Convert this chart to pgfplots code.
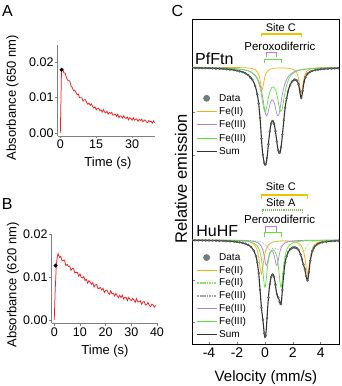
\documentclass[border=0pt]{standalone}
\usepackage{fontspec}
\setmainfont{Liberation Sans}
\usepackage{pgfplots}
\usepackage{pgfplotstable}
\pgfplotsset{compat=1.18}

\definecolor{tracered}{RGB}{255,25,25}
\definecolor{feii}{RGB}{255,170,20}
\definecolor{feiiA}{RGB}{140,228,110}
\definecolor{feiiigray}{RGB}{165,165,165}
\definecolor{feiiipurple}{RGB}{175,130,230}
\definecolor{feiiigreen}{RGB}{90,232,55}
\definecolor{sitec}{RGB}{240,195,0}
\definecolor{datagray}{RGB}{110,125,125}

% stopped-flow traces
\pgfplotstableread{
t a
0 0.0000
0.5 0.0178
1.0 0.0181
1.5 0.0169
2.0 0.0169
2.5 0.0157
3.0 0.0149
3.5 0.0148
4.0 0.0145
4.5 0.0132
5.0 0.0128
5.5 0.0119
6.0 0.0121
6.5 0.0115
7.0 0.0108
7.5 0.0110
8.0 0.0100
8.5 0.0099
9.0 0.0099
9.5 0.0090
10.0 0.0094
10.5 0.0094
11.0 0.0086
11.5 0.0081
12.0 0.0084
12.5 0.0078
13.0 0.0082
13.5 0.0075
14.0 0.0070
14.5 0.0074
15.0 0.0065
15.5 0.0069
16.0 0.0070
16.5 0.0063
17.0 0.0065
17.5 0.0059
18.0 0.0066
18.5 0.0059
19.0 0.0057
19.5 0.0061
20.0 0.0053
20.5 0.0058
21.0 0.0055
21.5 0.0058
22.0 0.0050
22.5 0.0051
23.0 0.0053
23.5 0.0047
24.0 0.0053
24.5 0.0043
25.0 0.0048
25.5 0.0048
26.0 0.0042
26.5 0.0048
27.0 0.0043
27.5 0.0041
28.0 0.0045
28.5 0.0037
29.0 0.0043
29.5 0.0041
30.0 0.0036
30.5 0.0043
31.0 0.0036
31.5 0.0038
32.0 0.0040
32.5 0.0033
33.0 0.0038
33.5 0.0035
34.0 0.0039
34.5 0.0032
35.0 0.0035
35.5 0.0037
36.0 0.0031
36.5 0.0029
37.0 0.0035
37.5 0.0032
38.0 0.0033
38.5 0.0028
39.0 0.0034
39.5 0.0028
}\traceA

\pgfplotstableread{
t a
0 0.0000
0.3 0.0060
0.8 0.0130
1.2 0.0148
1.5 0.0155
2.0 0.0146
2.5 0.0149
3.0 0.0138
3.5 0.0139
4.0 0.0140
4.5 0.0127
5.0 0.0130
5.5 0.0125
6.0 0.0126
6.5 0.0116
7.0 0.0120
7.5 0.0120
8.0 0.0110
8.5 0.0111
9.0 0.0111
9.5 0.0102
10.0 0.0108
10.5 0.0099
11.0 0.0098
11.5 0.0101
12.0 0.0092
12.5 0.0095
13.0 0.0086
13.5 0.0092
14.0 0.0088
14.5 0.0083
15.0 0.0087
15.5 0.0077
16.0 0.0082
16.5 0.0083
17.0 0.0073
17.5 0.0074
18.0 0.0076
18.5 0.0070
19.0 0.0074
19.5 0.0064
20.0 0.0069
20.5 0.0070
21.0 0.0063
21.5 0.0060
22.0 0.0068
22.5 0.0061
23.0 0.0062
23.5 0.0056
24.0 0.0062
24.5 0.0057
25.0 0.0052
25.5 0.0058
26.0 0.0052
26.5 0.0058
27.0 0.0049
27.5 0.0053
28.0 0.0053
28.5 0.0045
29.0 0.0053
29.5 0.0048
30.0 0.0045
30.5 0.0050
31.0 0.0047
31.5 0.0041
32.0 0.0050
32.5 0.0042
33.0 0.0043
33.5 0.0045
34.0 0.0037
34.5 0.0042
35.0 0.0043
35.5 0.0035
36.0 0.0036
36.5 0.0041
37.0 0.0034
37.5 0.0031
38.0 0.0037
38.5 0.0035
39.0 0.0030
39.5 0.0034
}\traceB

% PfFtn Moessbauer fit: depths below baseline
\pgfplotstableread{
v O P G S
-5.2 0.04 0.29 0.26 0.59
-4 0.06 0.47 0.42 0.95
-3 0.10 0.78 0.71 1.59
-2.2 0.19 1.34 1.23 2.76
-1.6 0.36 2.27 2.14 4.77
-1.2 0.67 3.59 3.50 7.76
-0.9 1.29 5.55 5.62 12.46
-0.7 2.36 7.89 8.36 18.61
-0.55 4.27 10.81 11.89 26.97
-0.45 7.03 13.66 15.50 36.19
-0.35 12.44 17.65 20.64 50.73
-0.3 16.43 20.22 23.94 60.59
-0.25 20.33 23.27 27.77 71.37
-0.2 22.09 26.83 31.97 80.89
-0.15 20.33 30.86 36.31 87.50
-0.1 16.44 35.30 40.27 92.01
-0.05 12.46 39.87 43.16 95.49
0 9.33 44.02 44.38 97.73
0.1 5.47 48.63 41.24 95.34
0.2 3.50 46.36 33.99 83.85
0.3 2.43 40.25 27.15 69.83
0.4 1.78 34.96 22.53 59.27
0.5 1.40 32.47 20.12 53.99
0.6 1.13 33.28 19.62 54.03
0.7 0.96 37.29 21.07 59.32
0.8 0.84 43.48 24.55 68.87
0.9 0.76 48.29 30.35 79.40
1.0 0.72 47.15 37.80 85.67
1.1 0.69 39.87 43.64 84.20
1.2 0.69 30.86 43.16 74.71
1.3 0.71 23.27 36.31 60.29
1.4 0.75 17.65 27.77 46.17
1.5 0.81 13.66 20.64 35.11
1.7 1.05 8.72 11.89 21.66
1.9 1.56 6.03 7.52 15.11
2.1 2.77 4.41 5.16 12.34
2.3 6.30 3.38 3.77 13.45
2.4 10.77 2.99 3.27 17.03
2.45 14.42 2.82 3.06 20.30
2.5 19.04 2.67 2.87 24.58
2.55 23.55 2.52 2.70 28.77
2.6 25.59 2.39 2.54 30.52
2.65 23.54 2.27 2.40 28.21
2.7 19.03 2.15 2.27 23.45
2.75 14.41 2.06 2.14 18.61
2.8 10.76 1.95 2.03 14.74
2.9 6.28 1.79 1.84 9.91
3.0 3.97 1.64 1.66 7.27
3.2 1.96 1.39 1.39 4.74
3.5 0.94 1.11 1.09 3.14
4.0 0.42 0.81 0.78 2.01
4.6 0.22 0.58 0.55 1.35
5.3 0.13 0.42 0.39 0.94
}\pffit

\pgfplotstableread{
v S
-5.2 0.59
-5.0 0.65
-4.75 0.72
-4.5 0.80
-4.25 0.87
-4.0 0.95
-3.75 1.10
-3.5 1.25
-3.25 1.40
-3.0 1.59
-2.75 1.90
-2.5 2.25
-2.2 2.76
-2.0 3.30
-1.8 4.00
-1.6 4.77
-1.4 6.00
-1.2 7.76
-1.05 10.2
-0.9 12.46
-0.7 18.61
-0.55 26.97
-0.45 36.19
-0.35 50.73
-0.25 71.37
-0.15 87.50
-0.05 95.49
0.05 97.2
0.15 90.5
0.25 77.0
0.35 64.2
0.45 56.2
0.55 53.6
0.65 56.3
0.75 63.8
0.85 74.2
0.95 83.0
1.05 85.4
1.15 80.0
1.25 67.5
1.35 53.0
1.45 40.4
1.55 31.0
1.65 24.3
1.8 18.0
1.95 14.2
2.1 12.34
2.2 12.5
2.3 13.45
2.4 17.03
2.5 24.58
2.6 30.52
2.7 23.45
2.8 14.74
2.9 9.91
3.0 7.27
3.1 5.8
3.25 4.4
3.4 3.5
3.6 2.9
3.8 2.4
4.0 2.01
4.25 1.7
4.5 1.45
4.75 1.25
5.0 1.1
5.25 0.96
}\pfdata

% HuHF Moessbauer fit: depths below its own baseline
\pgfplotstableread{
v O L Y P G S
-5.2 0.07 0.04 0.04 0.06 0.12 0.33
-4 0.12 0.06 0.07 0.10 0.18 0.53
-3 0.22 0.11 0.11 0.17 0.31 0.92
-2.2 0.40 0.18 0.18 0.28 0.54 1.58
-1.6 0.79 0.33 0.29 0.49 0.95 2.85
-1.2 1.51 0.55 0.44 0.78 1.57 4.85
-1.0 2.34 0.76 0.56 1.05 2.17 6.88
-0.8 4.07 1.13 0.74 1.48 3.18 10.60
-0.65 6.90 1.61 0.93 2.01 4.54 15.99
-0.55 10.57 2.12 1.11 2.56 6.01 22.37
-0.45 17.11 2.91 1.33 3.36 8.30 33.01
-0.35 27.32 4.13 1.64 4.61 12.12 49.82
-0.25 34.13 6.08 2.07 6.67 18.86 67.81
-0.15 27.33 8.91 2.67 10.28 30.50 79.69
-0.1 21.89 10.43 3.06 13.02 37.95 86.35
-0.05 17.13 11.64 3.54 16.49 44.53 93.33
0 13.41 12.10 4.12 20.46 47.35 97.44
0.05 10.62 11.65 4.80 24.00 44.76 95.83
0.1 8.51 10.45 5.61 25.59 38.41 88.57
0.15 6.96 8.93 6.52 24.40 31.21 78.02
0.2 5.77 7.43 7.50 21.28 24.95 66.93
0.3 4.15 5.04 9.19 14.81 16.58 49.77
0.4 3.12 3.51 9.61 11.35 12.25 39.84
0.5 2.45 2.55 8.86 10.70 10.33 34.89
0.6 1.99 1.94 8.11 12.67 9.98 34.69
0.7 1.65 1.53 8.11 17.76 11.06 40.11
0.8 1.41 1.26 8.86 24.40 14.02 49.95
0.85 1.37 1.16 9.32 25.59 16.58 54.02
0.9 1.29 1.07 9.61 24.00 20.11 56.08
1.0 1.17 0.95 9.19 16.49 31.21 59.01
1.05 1.13 0.90 8.44 13.02 38.41 61.90
1.1 1.08 0.86 7.50 10.28 44.76 64.48
1.15 1.05 0.83 6.52 8.23 47.35 63.98
1.2 1.03 0.80 5.61 6.67 44.53 58.64
1.3 1.00 0.78 4.12 4.61 30.50 41.01
1.4 0.98 0.77 3.06 3.36 18.86 27.03
1.5 1.00 0.79 2.34 2.56 12.12 18.81
1.65 1.05 0.86 1.65 1.80 7.01 12.37
1.8 1.17 1.00 1.21 1.35 4.54 9.27
2.0 1.46 1.38 0.86 0.97 2.87 7.54
2.2 2.01 2.20 0.64 0.73 1.99 7.57
2.4 3.13 4.18 0.50 0.57 1.47 9.85
2.55 4.86 7.43 0.42 0.49 1.20 14.40
2.65 6.96 10.45 0.38 0.44 1.07 19.30
2.75 10.62 12.10 0.34 0.40 0.95 24.41
2.85 17.14 10.43 0.31 0.36 0.86 29.10
2.95 27.33 7.40 0.28 0.33 0.77 36.11
3.05 34.13 5.00 0.26 0.31 0.70 40.40
3.15 27.32 3.45 0.24 0.28 0.64 31.93
3.25 17.11 2.47 0.22 0.26 0.59 20.65
3.4 8.46 1.61 0.20 0.24 0.52 11.03
3.6 4.07 1.01 0.17 0.21 0.45 5.91
3.9 1.87 0.59 0.14 0.17 0.36 3.13
4.4 0.79 0.31 0.10 0.13 0.27 1.60
5.3 0.31 0.14 0.07 0.08 0.17 0.77
}\hufit

\pgfplotstableread{
v S
-5.2 0.33
-5.0 0.36
-4.75 0.40
-4.5 0.45
-4.25 0.49
-4.0 0.53
-3.75 0.60
-3.5 0.70
-3.25 0.80
-3.0 0.92
-2.75 1.10
-2.5 1.30
-2.2 1.58
-2.0 1.90
-1.8 2.30
-1.6 2.85
-1.4 3.70
-1.2 4.85
-1.0 6.88
-0.8 10.6
-0.65 15.99
-0.55 22.37
-0.45 33.01
-0.35 49.82
-0.25 67.81
-0.15 79.69
-0.05 93.33
0.05 95.83
0.15 78.02
0.25 57.5
0.35 44.2
0.45 36.8
0.55 34.4
0.65 36.9
0.75 44.9
0.85 54.02
0.95 57.6
1.05 61.9
1.15 63.98
1.25 50.0
1.35 33.5
1.45 22.5
1.55 16.3
1.65 12.37
1.8 9.27
1.9 8.3
2.0 7.54
2.1 7.4
2.2 7.57
2.3 8.4
2.4 9.85
2.55 14.4
2.65 19.3
2.75 24.41
2.85 29.1
2.95 36.11
3.05 40.4
3.15 31.93
3.25 20.65
3.4 11.03
3.5 8.0
3.6 5.91
3.75 4.3
3.9 3.13
4.1 2.4
4.4 1.6
4.75 1.2
5.0 1.0
5.25 0.80
}\hudata

\begin{document}
\begin{tikzpicture}
\useasboundingbox (0,0) rectangle (341pt,386pt);

\pgfplotsset{
  trace/.style={
    scale only axis, anchor=south west,
    axis lines=left, axis line style={-, draw=gray, line width=0.6pt},
    tick style={draw=gray, line width=0.6pt}, tick align=outside,
    major tick length=2.5pt,
    ytick={0,0.01,0.02}, scaled y ticks=false,
    yticklabel style={/pgf/number format/fixed, /pgf/number format/fixed zerofill,
      /pgf/number format/precision=2},
    /pgf/number format/assume math mode=true,
    ticklabel style={font=\fontsize{12.5}{14}\selectfont, inner sep=1.5pt},
  },
  moss/.style={
    scale only axis, anchor=south west, at={(192.7pt,42pt)},
    width=146.3pt, height=325pt,
    xmin=-5.17, xmax=5.3, ymin=-276.7, ymax=48.3,
  },
  mlegend/.style={
    legend cell align=left,
    legend style={draw=none, fill=none, inner sep=0pt, outer sep=0pt,
      font=\fontsize{10}{11}\selectfont, row sep=#1,
      /tikz/every even column/.append style={column sep=2pt}},
    legend image code/.code={\draw[mark repeat=2, mark phase=2, ##1, line width=1.2pt]
      plot coordinates {(0pt,0pt) (10pt,0pt) (20pt,0pt)};},
  },
}

% ---------- A ----------
\begin{axis}[trace, at={(57.7pt,250pt)}, width=97.3pt, height=91pt,
  xmin=-1.1, xmax=39.6, ymin=-0.00085, ymax=0.0248, xtick={0,15,30}]
\addplot[tracered, line width=0.75pt] table[x=t, y=a] {\traceA};
\addplot[only marks, mark=*, mark size=1.8pt, black] coordinates {(0.5,0.0178)};
\end{axis}

% ---------- B ----------
\begin{axis}[trace, at={(51.7pt,62.7pt)}, width=105.8pt, height=89pt,
  xmin=-1.0, xmax=40.2, ymin=-0.00077, ymax=0.02, xtick={0,10,20,30,40}]
\addplot[tracered, line width=0.75pt] table[x=t, y=a] {\traceB};
\addplot[only marks, mark=*, mark size=1.8pt, black] coordinates {(0.5,0.0127)};
\end{axis}

% ---------- C : frame + PfFtn ----------
\begin{axis}[moss, mlegend=0.6pt,
  axis line style={line width=0.8pt},
  xtick={-4,-2,0,2,4}, xtick pos=left, ytick pos=left,
  ytick={-255,-213.4,-172.7,-88.4,-44.7,0}, yticklabels={},
  tick align=inside, major tick length=2.5pt, tick style={line width=0.7pt},
  /pgf/number format/assume math mode=true,
  xticklabel style={font=\fontsize{14}{16}\selectfont},
  legend style={at={(rel axis cs:0.0226,0.775)}, anchor=north west}]
\addlegendimage{only marks, mark=*, mark size=2.8pt, mark options={fill=datagray, draw=datagray}}
\addlegendentry{Data}
\addplot[feii, line width=0.7pt, smooth] table[x=v, y expr=-\thisrow{O}] {\pffit};
\addlegendentry{Fe(II)}
\addplot[feiiipurple, line width=0.7pt, smooth] table[x=v, y expr=-\thisrow{P}] {\pffit};
\addlegendentry{Fe(III)}
\addplot[feiiigreen, line width=0.7pt, smooth] table[x=v, y expr=-\thisrow{G}] {\pffit};
\addlegendentry{Fe(III)}
\addplot[black!80, line width=1.1pt, smooth] table[x=v, y expr=-\thisrow{S}] {\pffit};
\addlegendentry{Sum}
\addplot[forget plot, only marks, mark=*, mark size=1.1pt,
  mark options={fill=datagray, draw=black!75, line width=0.2pt}]
  table[x=v, y expr=-\thisrow{S}] {\pfdata};

\node[font=\fontsize{16}{18}\selectfont, anchor=base] at (axis cs:-3.62,2.5) {PfFtn};
\node[font=\fontsize{11}{12}\selectfont] at (axis cs:1.13,39.8) {Site C};
\draw[sitec, line width=1.1pt] (axis cs:-0.24,30.3) -- (axis cs:-0.24,33.3) -- (axis cs:2.63,33.3) -- (axis cs:2.63,30.3);
\node[font=\fontsize{11.5}{12}\selectfont] at (axis cs:1.07,20.6) {Peroxodiferric};
\draw[feiiipurple, line width=1.1pt] (axis cs:0.12,10) -- (axis cs:0.12,14.6) -- (axis cs:0.84,14.6) -- (axis cs:0.84,10);
\draw[feiiigreen, line width=1.1pt] (axis cs:-0.02,4) -- (axis cs:-0.02,8) -- (axis cs:1.18,8) -- (axis cs:1.18,4);
\end{axis}

% ---------- C : HuHF ----------
\begin{axis}[moss, mlegend=0.1pt, hide axis,
  legend style={at={(rel axis cs:0.0226,0.285)}, anchor=north west}]
\addlegendimage{only marks, mark=*, mark size=2.8pt, mark options={fill=datagray, draw=datagray}}
\addlegendentry{Data}
\addplot[feii, line width=0.7pt, smooth] table[x=v, y expr=-172.7-\thisrow{O}] {\hufit};
\addlegendentry{Fe(II)}
\addplot[feiiA, line width=0.7pt, densely dotted, smooth] table[x=v, y expr=-172.7-\thisrow{L}] {\hufit};
\addlegendentry{Fe(II)}
\addplot[feiiigray, line width=0.7pt, densely dotted, smooth] table[x=v, y expr=-172.7-\thisrow{Y}] {\hufit};
\addlegendentry{Fe(III)}
\addplot[feiiipurple, line width=0.7pt, smooth] table[x=v, y expr=-172.7-\thisrow{P}] {\hufit};
\addlegendentry{Fe(III)}
\addplot[feiiigreen, line width=0.7pt, smooth] table[x=v, y expr=-172.7-\thisrow{G}] {\hufit};
\addlegendentry{Fe(III)}
\addplot[black!80, line width=1.1pt, smooth] table[x=v, y expr=-172.7-\thisrow{S}] {\hufit};
\addlegendentry{Sum}
\addplot[forget plot, only marks, mark=*, mark size=1.1pt,
  mark options={fill=datagray, draw=black!75, line width=0.2pt}]
  table[x=v, y expr=-172.7-\thisrow{S}] {\hudata};

\node[font=\fontsize{16}{18}\selectfont, anchor=base] at (axis cs:-3.41,-169.4) {HuHF};
\node[font=\fontsize{11}{12}\selectfont] at (axis cs:1.13,-119.7) {Site C};
\draw[sitec, line width=1.1pt] (axis cs:-0.24,-131.7) -- (axis cs:-0.24,-127.7) -- (axis cs:3.04,-127.7) -- (axis cs:3.04,-131.7);
\node[font=\fontsize{11}{12}\selectfont] at (axis cs:1.13,-135.2) {Site A};
\draw[feiiA!85!black, line width=1.1pt, densely dotted] (axis cs:-0.19,-146.7) -- (axis cs:-0.19,-142.7) -- (axis cs:2.68,-142.7) -- (axis cs:2.68,-146.7);
\node[font=\fontsize{11.5}{12}\selectfont] at (axis cs:1.05,-151.7) {Peroxodiferric};
\draw[feiiipurple, line width=1.1pt] (axis cs:0.05,-164.4) -- (axis cs:0.05,-159.4) -- (axis cs:0.84,-159.4) -- (axis cs:0.84,-164.4);
\draw[feiiigreen, line width=1.1pt] (axis cs:-0.02,-169.4) -- (axis cs:-0.02,-165.4) -- (axis cs:1.18,-165.4) -- (axis cs:1.18,-169.4);
\end{axis}

% panel letters and axis titles
\node[font=\fontsize{16}{18}\selectfont] at (7.5pt,375.2pt) {A};
\node[font=\fontsize{16}{18}\selectfont] at (7.2pt,182pt) {B};
\node[font=\fontsize{16}{18}\selectfont] at (177.5pt,375.2pt) {C};
\node[font=\fontsize{13}{15}\selectfont, rotate=90] at (12.5pt,288.5pt) {Absorbance (650 nm)};
\node[font=\fontsize{13}{15}\selectfont] at (108pt,222.7pt) {Time (s)};
\node[font=\fontsize{13}{15}\selectfont, rotate=90] at (13pt,101pt) {Absorbance (620 nm)};
\node[font=\fontsize{13}{15}\selectfont] at (105pt,35pt) {Time (s)};
\node[font=\fontsize{15}{17}\selectfont] at (266pt,8.7pt) {Velocity (mm/s)};
\node[font=\fontsize{16.5}{18}\selectfont, rotate=90] at (181pt,207pt) {Relative emission};
\end{tikzpicture}
\end{document}
